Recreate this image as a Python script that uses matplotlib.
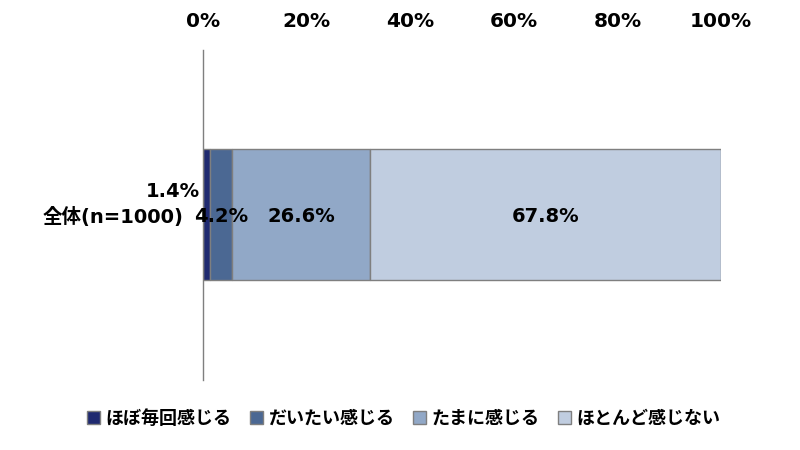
import matplotlib
matplotlib.use("Agg")
import matplotlib.pyplot as plt
from matplotlib.patches import Patch

plt.rcParams['font.family'] = ['DejaVu Sans', 'Noto Sans CJK JP']

categories = ["全体(n=1000)"]
series_names = ["ほぼ毎回感じる", "だいたい感じる", "たまに感じる", "ほとんど感じない"]
values = [1.4, 4.2, 26.6, 67.8]
colors = ["#1F2A70", "#4B6893", "#91A8C7", "#C0CDE0"]
xticks = [0, 20, 40, 60, 80, 100]
xtick_labels = ["0%", "20%", "40%", "60%", "80%", "100%"]

fig = plt.figure(figsize=(8, 4.5), dpi=100)
ax = fig.add_axes([0.25375, 0.1556, 0.6475, 0.7333])

left = 0
for name, v, c in zip(series_names, values, colors):
    ax.barh(0, v, left=left, height=0.794, color=c, edgecolor="#7F7F7F", linewidth=1.0, label=name)
    left += v

cum = 0
for i, v in enumerate(values):
    center = cum + v / 2
    if i == 0:
        ax.text(-0.5, 0.14, f"{v}%", ha="right", va="center", fontsize=14, fontweight="bold")
    else:
        ax.text(center, -0.01, f"{v}%", ha="center", va="center", fontsize=14, fontweight="bold")
    cum += v

ax.set_xlim(0, 100)
ax.set_ylim(-1, 1)
ax.xaxis.tick_top()
ax.set_xticks(xticks)
ax.set_xticklabels(xtick_labels, fontsize=14.5, fontweight="bold")
ax.tick_params(axis="x", length=0, pad=14)
ax.set_yticks([0])
ax.set_yticklabels(categories, fontsize=14, fontweight="bold")
ax.tick_params(axis="y", length=0, pad=14)
for s in ["top", "right", "bottom"]:
    ax.spines[s].set_visible(False)
ax.spines["left"].set_color("#7F7F7F")
ax.spines["left"].set_linewidth(1.0)

handles = [Patch(facecolor=c, edgecolor="#7F7F7F", label=n) for n, c in zip(series_names, colors)]
fig.legend(handles=handles, loc="center", bbox_to_anchor=(0.505, 0.07), ncol=4, frameon=False,
           prop={"size": 13, "weight": "bold"}, handlelength=0.7, handleheight=0.7,
           handletextpad=0.3, columnspacing=1.05)

fig.savefig("out.png", dpi=100)
